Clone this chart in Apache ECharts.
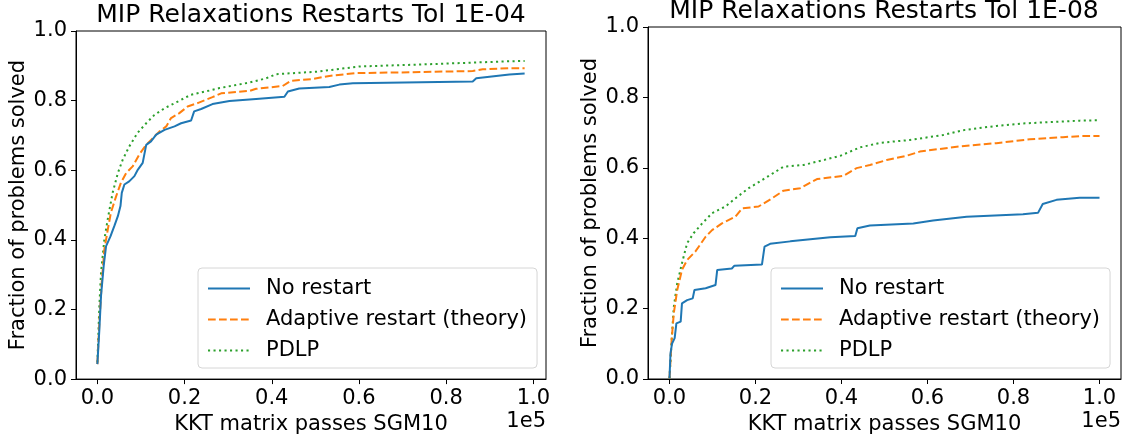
<!DOCTYPE html>
<html lang="en">
<head>
  <meta charset="utf-8">
  <script src="https://cdn.jsdelivr.net/npm/echarts@6.0.0/dist/echarts.min.js"></script>
</head>
<body style="margin: 0">
  <div id="container" style="width: 1125px; height: 440px"></div>
  <script type="text/javascript">
    // x values are in units of 1e5 KKT matrix passes
    var titles = ['MIP Relaxations Restarts Tol 1E-04', 'MIP Relaxations Restarts Tol 1E-08'];
    var seriesNames = ['No restart', 'Adaptive restart (theory)', 'PDLP'];
    var xTicks = [0, 0.2, 0.4, 0.6, 0.8, 1.0];

    // Tol 1E-04
    var tol4NoRestartX = [0, 0.0046, 0.0084, 0.0145, 0.02, 0.03, 0.039, 0.047, 0.053, 0.056, 0.062, 0.073, 0.085, 0.093, 0.104, 0.107, 0.112, 0.123, 0.135, 0.154, 0.177, 0.192, 0.215, 0.222, 0.238, 0.264, 0.303, 0.364, 0.429, 0.437, 0.463, 0.532, 0.555, 0.586, 0.861, 0.869, 0.945, 0.98];
    var tol4NoRestartY = [0.043, 0.143, 0.239, 0.325, 0.382, 0.41, 0.44, 0.468, 0.497, 0.535, 0.559, 0.568, 0.583, 0.602, 0.621, 0.626, 0.673, 0.683, 0.702, 0.716, 0.726, 0.735, 0.743, 0.769, 0.776, 0.79, 0.799, 0.805, 0.811, 0.826, 0.835, 0.839, 0.846, 0.85, 0.855, 0.864, 0.875, 0.878];
    var tol4AdaptiveX = [0, 0.0046, 0.01, 0.016, 0.024, 0.031, 0.043, 0.054, 0.066, 0.081, 0.096, 0.112, 0.127, 0.142, 0.158, 0.169, 0.188, 0.207, 0.23, 0.264, 0.284, 0.349, 0.364, 0.425, 0.444, 0.494, 0.532, 0.593, 0.693, 0.861, 0.884, 0.945, 0.98];
    var tol4AdaptiveY = [0.043, 0.162, 0.277, 0.372, 0.43, 0.478, 0.525, 0.564, 0.592, 0.611, 0.645, 0.673, 0.692, 0.711, 0.726, 0.75, 0.764, 0.783, 0.793, 0.81, 0.821, 0.828, 0.834, 0.842, 0.857, 0.862, 0.871, 0.879, 0.881, 0.885, 0.89, 0.893, 0.893];
    var tol4PdlpX = [0, 0.0046, 0.0084, 0.016, 0.025, 0.035, 0.047, 0.058, 0.073, 0.092, 0.112, 0.131, 0.154, 0.184, 0.215, 0.261, 0.28, 0.349, 0.387, 0.41, 0.502, 0.601, 0.769, 0.945, 0.98];
    var tol4PdlpY = [0.048, 0.21, 0.306, 0.401, 0.468, 0.535, 0.592, 0.63, 0.668, 0.707, 0.735, 0.759, 0.778, 0.797, 0.817, 0.83, 0.836, 0.852, 0.864, 0.876, 0.883, 0.898, 0.905, 0.913, 0.914];

    // Tol 1E-08
    var tol8NoRestartX = [0, 0.0023, 0.006, 0.012, 0.016, 0.026, 0.029, 0.041, 0.054, 0.058, 0.084, 0.107, 0.111, 0.145, 0.151, 0.215, 0.221, 0.234, 0.281, 0.374, 0.432, 0.437, 0.466, 0.567, 0.613, 0.691, 0.822, 0.857, 0.868, 0.9, 0.954, 1.0];
    var tol8NoRestartY = [0.002, 0.073, 0.101, 0.116, 0.158, 0.163, 0.215, 0.224, 0.229, 0.253, 0.258, 0.267, 0.31, 0.314, 0.322, 0.325, 0.376, 0.384, 0.391, 0.403, 0.406, 0.428, 0.436, 0.442, 0.45, 0.461, 0.468, 0.472, 0.497, 0.509, 0.515, 0.515];
    var tol8AdaptiveX = [0, 0.005, 0.01, 0.018, 0.029, 0.041, 0.06, 0.084, 0.099, 0.122, 0.153, 0.169, 0.207, 0.238, 0.265, 0.304, 0.343, 0.404, 0.435, 0.466, 0.505, 0.551, 0.582, 0.668, 0.76, 0.838, 0.915, 0.954, 1.0];
    var tol8AdaptiveY = [0.002, 0.111, 0.187, 0.253, 0.31, 0.338, 0.362, 0.404, 0.423, 0.442, 0.461, 0.485, 0.49, 0.513, 0.535, 0.542, 0.568, 0.577, 0.599, 0.608, 0.622, 0.634, 0.646, 0.66, 0.67, 0.681, 0.687, 0.69, 0.69];
    var tol8PdlpX = [0, 0.005, 0.01, 0.018, 0.029, 0.041, 0.056, 0.076, 0.099, 0.13, 0.153, 0.184, 0.215, 0.265, 0.312, 0.358, 0.397, 0.443, 0.49, 0.559, 0.636, 0.683, 0.76, 0.822, 0.954, 1.0];
    var tol8PdlpY = [0.002, 0.111, 0.205, 0.272, 0.329, 0.386, 0.414, 0.442, 0.471, 0.49, 0.513, 0.542, 0.565, 0.603, 0.608, 0.622, 0.634, 0.658, 0.671, 0.679, 0.693, 0.707, 0.719, 0.726, 0.734, 0.735];

    var FONT = 'DejaVu Sans';
    var colors = ['#1f77b4', '#ff7f0e', '#2ca02c'];
    var dashes = ['solid', [7.7, 3.3], [2.1, 3.4]];

    function pairs(xs, ys) {
      return xs.map(function (x, i) { return [x, ys[i]]; });
    }

    function xAxisFor(idx, min, max) {
      return {
        type: 'value', gridIndex: idx, min: min, max: max,
        name: 'KKT matrix passes SGM10', nameLocation: 'middle', nameGap: 31,
        nameTextStyle: { fontSize: 21, color: '#000', fontFamily: FONT },
        axisLine: { show: true, onZero: false, lineStyle: { color: '#000', width: 1 } },
        axisTick: { show: true, length: 5, lineStyle: { color: '#000', width: 1 }, customValues: xTicks },
        axisLabel: {
          fontSize: 21, color: '#000', fontFamily: FONT, margin: 9, customValues: xTicks,
          formatter: function (v) { return v.toFixed(1); }
        },
        splitLine: { show: false }
      };
    }

    function yAxisFor(idx) {
      return {
        type: 'value', gridIndex: idx, min: 0, max: 1, interval: 0.2,
        name: 'Fraction of problems solved', nameLocation: 'middle', nameGap: 47, nameRotate: 90,
        nameTextStyle: { fontSize: 21, color: '#000', fontFamily: FONT },
        axisLine: { show: true, onZero: false, lineStyle: { color: '#000', width: 1 } },
        axisTick: { show: true, length: 5, lineStyle: { color: '#000', width: 1 } },
        axisLabel: {
          fontSize: 21, color: '#000', fontFamily: FONT, margin: 9,
          formatter: function (v) { return v.toFixed(1); }
        },
        splitLine: { show: false }
      };
    }

    function legendFor(left) {
      return {
        orient: 'vertical', left: left, top: 268,
        data: seriesNames,
        itemWidth: 42, itemHeight: 14, itemGap: 10,
        padding: [10, 10, 7, 9],
        backgroundColor: 'rgba(255,255,255,0.8)',
        borderColor: '#d6d6d6', borderWidth: 1, borderRadius: 4,
        itemStyle: { opacity: 0 },
        textStyle: { fontSize: 21, lineHeight: 21, color: '#000', fontFamily: FONT, padding: [0, 0, 0, 11] }
      };
    }

    function lineSeries(name, k, grid, data) {
      return {
        name: name, type: 'line', xAxisIndex: grid, yAxisIndex: grid,
        data: data, symbol: 'none', showSymbol: false,
        lineStyle: { color: colors[k], width: 2, type: dashes[k] },
        itemStyle: { color: colors[k] },
        z: 3 + (2 - k)
      };
    }

    var dom = document.getElementById('container');
    var myChart = echarts.init(dom, null, { renderer: 'canvas' });

    var option = {
      animation: false,
      backgroundColor: '#fff',
      title: [
        { text: titles[0], left: 311, top: 15, textAlign: 'center', textVerticalAlign: 'middle', padding: 0,
          textStyle: { fontSize: 25, fontWeight: 'normal', color: '#000', fontFamily: FONT } },
        { text: titles[1], left: 884, top: 11, textAlign: 'center', textVerticalAlign: 'middle', padding: 0,
          textStyle: { fontSize: 25, fontWeight: 'normal', color: '#000', fontFamily: FONT } }
      ],
      grid: [
        { left: 76, top: 31, width: 470, height: 349, show: true, borderColor: '#000', borderWidth: 1 },
        { left: 648, top: 27, width: 473, height: 352, show: true, borderColor: '#000', borderWidth: 1 }
      ],
      xAxis: [xAxisFor(0, -0.049, 1.029), xAxisFor(1, -0.05, 1.05)],
      yAxis: [yAxisFor(0), yAxisFor(1)],
      legend: [legendFor(198), legendFor(771)],
      graphic: [
        { type: 'text', right: 1125 - 546, top: 411,
          style: { text: '1e5', fontSize: 21, fill: '#000', fontFamily: FONT } },
        { type: 'text', right: 1125 - 1121, top: 411,
          style: { text: '1e5', fontSize: 21, fill: '#000', fontFamily: FONT } }
      ],
      series: [
        lineSeries(seriesNames[0], 0, 0, pairs(tol4NoRestartX, tol4NoRestartY)),
        lineSeries(seriesNames[1], 1, 0, pairs(tol4AdaptiveX, tol4AdaptiveY)),
        lineSeries(seriesNames[2], 2, 0, pairs(tol4PdlpX, tol4PdlpY)),
        lineSeries(seriesNames[0], 0, 1, pairs(tol8NoRestartX, tol8NoRestartY)),
        lineSeries(seriesNames[1], 1, 1, pairs(tol8AdaptiveX, tol8AdaptiveY)),
        lineSeries(seriesNames[2], 2, 1, pairs(tol8PdlpX, tol8PdlpY))
      ]
    };

    myChart.setOption(option);
    window.addEventListener('resize', myChart.resize);
  </script>
</body>
</html>
